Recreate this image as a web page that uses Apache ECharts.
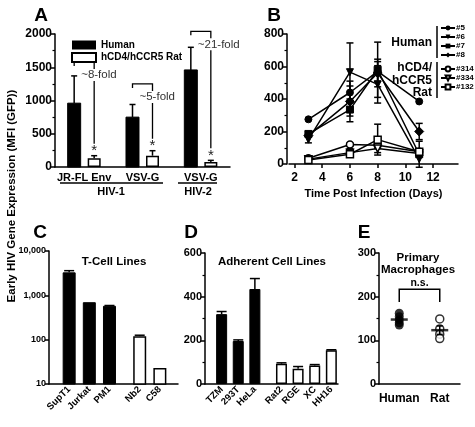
<!DOCTYPE html>
<html>
<head>
<meta charset="utf-8">
<script src="https://cdn.jsdelivr.net/npm/echarts@6/dist/echarts.min.js"></script>
<style>
html,body{margin:0;padding:0;background:#fff;}
#chart{width:475px;height:427px;}
</style>
</head>
<body>
<div id="chart"></div>
<script>
const FONT = "'Liberation Sans', Arial, sans-serif";

/* ---------- A: MFI by envelope ---------- */
const aGroups = ['JR-FL Env', 'VSV-G', 'VSV-G'];
const aHuman = [960, 750, 1460];
const aHumanErr = [410, 190, 340];
const aRat = [130, 170, 75];
const aRatErr = [40, 75, 25];
const aFold = ['~8-fold', '~5-fold', '~21-fold'];
const aBracket = [1580, 1250, 2040];

/* ---------- B: time course ---------- */
const bDays = [3, 6, 8, 11];
const bTicks = [2, 4, 6, 8, 10, 12];
const h5 = [275, 440, 570, 385];
const h6 = [150, 565, 490, 30];
const h7 = [185, 335, 580, 60];
const h8 = [175, 385, 560, 200];
const r314 = [35, 120, 115, 75];
const r334 = [30, 70, 95, 65];
const r132 = [25, 60, 150, 75];
const h5Err = [0, 40, 60, 0];
const h6Err = [20, 180, 115, 0];
const h7Err = [15, 40, 170, 80];
const h8Err = [10, 125, 85, 50];
const r314Err = [5, 10, 20, 10];
const r334Err = [5, 25, 25, 10];
const r132Err = [5, 15, 95, 10];

/* ---------- C: T-cell lines ---------- */
const cLines = ['SupT1', 'Jurkat', 'PM1', 'Nb2', 'C58'];
const cOrigin = ['human', 'human', 'human', 'rat', 'rat'];
const cVal = [3300, 700, 580, 120, 23];
const cErr = [300, 0, 10, 6, 0];

/* ---------- D: adherent lines ---------- */
const dLines = ['TZM', '293T', 'HeLa', 'Rat2', 'RGE', 'XC', 'HH16'];
const dOrigin = ['human', 'human', 'human', 'rat', 'rat', 'rat', 'rat'];
const dVal = [320, 197, 435, 93, 70, 85, 155];
const dErr = [12, 5, 48, 4, 10, 4, 2];

/* ---------- E: macrophages ---------- */
const eGroups = ['Human', 'Rat'];
const eHuman = [162, 154, 147, 140, 135];
const eRat = [149, 126, 114, 104];
const eBracket = [217, 188];


// positions with a gap between human and rat lines
function positions(origin, gap){
  return origin.map((o, i) => i + 1 + (o === 'rat' ? gap : 0));
}
const cPos = positions(cOrigin, 0.5);
const dPos = positions(dOrigin, 0.6);

function mean(a){ return a.reduce((s, v) => s + v, 0) / a.length; }
function sem(a){
  const m = mean(a);
  return Math.sqrt(a.reduce((s, v) => s + (v - m) * (v - m), 0) / (a.length - 1)) / Math.sqrt(a.length);
}

const black = {stroke: '#000', lineWidth: 1.5};

function errItem(dx, cap, both, star){
  return function(params, api){
    const x = api.value(0), v = api.value(1), e = api.value(2);
    const kids = [];
    const hi = api.coord([x, v + e]);
    const lo = api.coord([x, both ? v - e : v]);
    const px = hi[0] + dx;
    if (e > 0) {
      kids.push({type: 'line', shape: {x1: px, y1: hi[1], x2: px, y2: lo[1]}, style: black});
      kids.push({type: 'line', shape: {x1: px - cap, y1: hi[1], x2: px + cap, y2: hi[1]}, style: black});
      if (both) kids.push({type: 'line', shape: {x1: px - cap, y1: lo[1], x2: px + cap, y2: lo[1]}, style: black});
    }
    if (star) {
      kids.push({type: 'text', x: px, y: hi[1] + 3,
        style: {text: '*', font: '15px ' + FONT, fill: '#222', align: 'center', verticalAlign: 'bottom'}});
    }
    return {type: 'group', children: kids};
  };
}

function names(list, pos){
  return v => {
    const k = pos.findIndex(p => Math.abs(p - v) < 1e-6);
    return k >= 0 ? list[k] : '';
  };
}

const axLine = {show: true, lineStyle: {color: '#000', width: 1.5}};
const axLabel = {color: '#000', fontFamily: FONT, fontWeight: 'bold', fontSize: 11};

function yAx(grid, extra){
  return Object.assign({
    type: 'value', gridIndex: grid,
    axisLine: axLine,
    axisTick: {show: true, length: 4, lineStyle: {color: '#000', width: 1.5}},
    minorTick: {show: true, splitNumber: 2, length: 2.5, lineStyle: {color: '#000', width: 1.2}},
    splitLine: {show: false},
    axisLabel: Object.assign({margin: 3}, axLabel, {formatter: v => String(v)})
  }, extra);
}

const chart = echarts.init(document.getElementById('chart'));

const bSets = [
  {name: '#5', v: h5, e: h5Err, sym: 'circle', open: false},
  {name: '#6', v: h6, e: h6Err, sym: 'triangle', rot: 180, open: false},
  {name: '#7', v: h7, e: h7Err, sym: 'rect', open: false},
  {name: '#8', v: h8, e: h8Err, sym: 'diamond', open: false, size: 9},
  {name: '#314', v: r314, e: r314Err, sym: 'circle', open: true},
  {name: '#334', v: r334, e: r334Err, sym: 'triangle', rot: 180, open: true},
  {name: '#132', v: r132, e: r132Err, sym: 'rect', open: true}
];

const bErrData = [];
bSets.forEach(s => bDays.forEach((d, k) => bErrData.push([d, s.v[k], s.e[k]])));

const bLines = bSets.map(s => ({
  name: s.name, type: 'line', xAxisIndex: 1, yAxisIndex: 1,
  data: bDays.map((d, k) => [d, s.v[k]]),
  symbol: s.sym, symbolSize: s.size || 7, symbolRotate: s.rot || 0,
  lineStyle: {color: '#000', width: 1.5},
  itemStyle: s.open ? {color: '#fff', borderColor: '#000', borderWidth: 1.5} : {color: '#000', borderColor: '#000'},
  z: s.open ? 4 : 3
}));

function barData(vals, pos, origin){
  return vals.map((v, i) => ({
    value: [pos[i], v],
    itemStyle: origin[i] === 'rat'
      ? {color: '#fff', borderColor: '#000', borderWidth: 1.5}
      : {color: '#000', borderColor: '#000', borderWidth: 1}
  }));
}

function txt(x, y, s, font, align){
  return {type: 'text', x: x, y: y,
    style: {text: s, font: font + ' ' + FONT, fill: '#000', align: align || 'center', verticalAlign: 'middle'}};
}

chart.setOption({
  animation: false,
  textStyle: {fontFamily: FONT},
  grid: [
    {left: 55, top: 34, width: 175, height: 133},
    {left: 289, top: 34, width: 169, height: 130},
    {left: 49, top: 251, width: 129, height: 133},
    {left: 205, top: 253, width: 133, height: 131},
    {left: 379, top: 253, width: 81, height: 131}
  ],
  legend: [
    {data: ['Human', 'hCD4/hCCR5 Rat'], orient: 'vertical', left: 66, top: 35,
     itemWidth: 24, itemHeight: 9, itemGap: 2, icon: 'rect', selectedMode: false,
     textStyle: {fontFamily: FONT, fontWeight: 'bold', fontSize: 10, color: '#000'}},
    {data: ['#5', '#6', '#7', '#8'], orient: 'vertical', left: 440, top: 24,
     itemWidth: 14, itemHeight: 6, itemGap: 1, selectedMode: false, padding: 0,
     textStyle: {fontFamily: FONT, fontWeight: 'bold', fontSize: 8, lineHeight: 8, color: '#000', padding: [0, 0, 0, -4]}},
    {data: ['#314', '#334', '#132'], orient: 'vertical', left: 440, top: 65,
     itemWidth: 14, itemHeight: 6, itemGap: 1, selectedMode: false, padding: 0,
     textStyle: {fontFamily: FONT, fontWeight: 'bold', fontSize: 8, lineHeight: 8, color: '#000', padding: [0, 0, 0, -4]}}
  ],
  xAxis: [
    {type: 'category', gridIndex: 0, data: aGroups, axisLine: axLine,
     axisTick: {show: false}, axisLabel: Object.assign({margin: 5, interval: 0}, axLabel)},
    {type: 'value', gridIndex: 1, min: 1.6, max: 13.8, offset: 4, axisLine: axLine,
     splitLine: {show: false},
     axisTick: {show: true, length: 4, customValues: bTicks, lineStyle: {color: '#000', width: 1.5}},
     axisLabel: Object.assign({margin: 4, customValues: bTicks}, axLabel, {fontSize: 12}),
     name: 'Time Post Infection (Days)', nameLocation: 'middle', nameGap: 20,
     nameTextStyle: {fontFamily: FONT, fontWeight: 'bold', fontSize: 11, color: '#000'}},
    {type: 'value', gridIndex: 2, min: 0, max: 6.4, axisLine: axLine, splitLine: {show: false},
     axisTick: {show: false},
     axisLabel: Object.assign({margin: 4, rotate: 45, customValues: cPos, formatter: names(cLines, cPos)},
       axLabel, {fontSize: 9.5})},
    {type: 'value', gridIndex: 3, min: 0, max: 8, axisLine: axLine, splitLine: {show: false},
     axisTick: {show: false},
     axisLabel: Object.assign({margin: 4, rotate: 45, customValues: dPos, formatter: names(dLines, dPos)},
       axLabel, {fontSize: 9.5})},
    {type: 'category', gridIndex: 4, data: eGroups, axisLine: axLine,
     axisTick: {show: false}, axisLabel: Object.assign({margin: 9, interval: 0}, axLabel, {fontSize: 12})}
  ],
  yAxis: [
    yAx(0, {min: 0, max: 2000, interval: 500,
      axisLabel: Object.assign({margin: 3, formatter: v => String(v)}, axLabel, {fontSize: 12})}),
    yAx(1, {min: 0, max: 800, interval: 200, offset: 2,
      axisLabel: Object.assign({margin: 3, formatter: v => String(v)}, axLabel, {fontSize: 12})}),
    yAx(2, {type: 'log', logBase: 10, min: 10, max: 10000, minorTick: {show: false},
      axisLabel: Object.assign({margin: 3, formatter: v => v.toLocaleString('en-US')}, axLabel, {fontSize: 9})}),
    yAx(3, {min: 0, max: 600, interval: 200}),
    yAx(4, {min: 0, max: 300, interval: 100})
  ],
  graphic: [
    txt(41, 16, 'A', 'bold 19px'),
    txt(274, 16, 'B', 'bold 19px'),
    txt(40, 233, 'C', 'bold 19px'),
    txt(191, 233, 'D', 'bold 19px'),
    txt(364, 233, 'E', 'bold 19px'),
    Object.assign(txt(12, 196, 'Early HIV Gene Expression (MFI (GFP))', 'bold 11.5px'), {rotation: Math.PI / 2}),
    // A group labels
    {type: 'line', shape: {x1: 60, y1: 183, x2: 163, y2: 183}, style: black},
    {type: 'line', shape: {x1: 178, y1: 183, x2: 217, y2: 183}, style: black},
    txt(111, 192, 'HIV-1', 'bold 11px'),
    txt(198, 192, 'HIV-2', 'bold 11px'),
    // B legend labels
    {type: 'line', shape: {x1: 437, y1: 26, x2: 437, y2: 58}, style: black},
    {type: 'line', shape: {x1: 437, y1: 62, x2: 437, y2: 98}, style: black},
    txt(432, 43, 'Human', 'bold 12px', 'right'),
    txt(432, 68, 'hCD4/', 'bold 12px', 'right'),
    txt(432, 81, 'hCCR5', 'bold 12px', 'right'),
    txt(432, 93, 'Rat', 'bold 12px', 'right'),
    // C, D, E titles
    txt(114, 262, 'T-Cell Lines', 'bold 11.5px'),
    txt(272, 262, 'Adherent Cell Lines', 'bold 11.5px'),
    txt(418, 258, 'Primary', 'bold 11.5px'),
    txt(418, 270, 'Macrophages', 'bold 11.5px')
  ],
  series: [
    // A
    {name: 'Human', type: 'bar', xAxisIndex: 0, yAxisIndex: 0, data: aHuman,
     barWidth: 13, barGap: '54%', itemStyle: {color: '#000', borderColor: '#000'}},
    {name: 'hCD4/hCCR5 Rat', type: 'bar', xAxisIndex: 0, yAxisIndex: 0, data: aRat,
     barWidth: 13, barGap: '54%', itemStyle: {color: '#fff', borderColor: '#000', borderWidth: 1.5}},
    {type: 'custom', xAxisIndex: 0, yAxisIndex: 0, z: 5,
     data: aHuman.map((v, i) => [i, v, aHumanErr[i]]), renderItem: errItem(-10, 3, false, false)},
    {type: 'custom', xAxisIndex: 0, yAxisIndex: 0, z: 5,
     data: aRat.map((v, i) => [i, v, aRatErr[i]]), renderItem: errItem(10, 3, false, true)},
    {type: 'custom', xAxisIndex: 0, yAxisIndex: 0, z: 6,
     data: aBracket.map((v, i) => [i, v]),
     renderItem: function(params, api){
       const i = params.dataIndex;
       const c = api.coord([i, aBracket[i]]);
       const hx = c[0] - 10, rx = c[0] + 10;
       const starTop = api.coord([i, aRat[i] + aRatErr[i]])[1] - 12;
       return {type: 'group', children: [
         {type: 'polyline', shape: {points: [[hx, c[1] + 4], [hx, c[1]], [rx, c[1]], [rx, starTop]]},
          style: {stroke: '#000', lineWidth: 1.3, fill: null}},
         {type: 'text', x: rx - 14, y: c[1] + 13,
          style: {text: aFold[i], font: '11.5px ' + FONT, fill: '#333', align: 'left', verticalAlign: 'middle',
                  backgroundColor: '#fff', padding: [0, 1]}}
       ]};
     }},
    // B
    ...bLines,
    {type: 'custom', xAxisIndex: 1, yAxisIndex: 1, z: 2,
     data: bErrData, renderItem: errItem(0, 3.5, true, false)},
    // C
    {type: 'bar', xAxisIndex: 2, yAxisIndex: 2, barWidth: 13, data: barData(cVal, cPos, cOrigin)},
    {type: 'custom', xAxisIndex: 2, yAxisIndex: 2, z: 5,
     data: cVal.map((v, i) => [cPos[i], v, cErr[i]]), renderItem: errItem(0, 5, false, false)},
    // D
    {type: 'bar', xAxisIndex: 3, yAxisIndex: 3, barWidth: 11, data: barData(dVal, dPos, dOrigin)},
    {type: 'custom', xAxisIndex: 3, yAxisIndex: 3, z: 5,
     data: dVal.map((v, i) => [dPos[i], v, dErr[i]]), renderItem: errItem(0, 5, false, false)},
    // E
    {type: 'scatter', xAxisIndex: 4, yAxisIndex: 4, symbolSize: 9,
     data: eHuman.map(v => [0, v]), itemStyle: {color: '#000'}},
    {type: 'scatter', xAxisIndex: 4, yAxisIndex: 4, symbolSize: 8,
     data: eRat.map(v => [1, v]), itemStyle: {color: '#fff', borderColor: '#000', borderWidth: 1.5}},
    {type: 'scatter', xAxisIndex: 4, yAxisIndex: 4, symbol: 'rect', symbolSize: [17, 2.5], z: 5,
     data: [[0, mean(eHuman)], [1, mean(eRat)]], itemStyle: {color: '#000'}},
    {type: 'custom', xAxisIndex: 4, yAxisIndex: 4, z: 5,
     data: [[0, mean(eHuman), sem(eHuman)], [1, mean(eRat), sem(eRat)]], renderItem: errItem(0, 3, true, false)},
    {type: 'custom', xAxisIndex: 4, yAxisIndex: 4, z: 5,
     data: [[0, eBracket[0]]],
     renderItem: function(params, api){
       const p0 = api.coord([0, eBracket[0]]);
       const p1 = api.coord([1, eBracket[0]]);
       const low = api.coord([0, eBracket[1]])[1];
       return {type: 'group', children: [
         {type: 'polyline', shape: {points: [[p0[0], low], [p0[0], p0[1]], [p1[0], p1[1]], [p1[0], low]]},
          style: {stroke: '#000', lineWidth: 1.5, fill: null}},
         {type: 'text', x: (p0[0] + p1[0]) / 2, y: p0[1] - 6,
          style: {text: 'n.s.', font: 'bold 10.5px ' + FONT, fill: '#000', align: 'center', verticalAlign: 'middle'}}
       ]};
     }}
  ]
});
</script>
</body>
</html>
